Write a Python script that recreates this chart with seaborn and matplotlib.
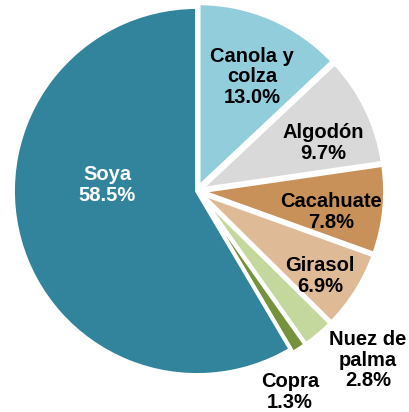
import matplotlib
matplotlib.use("Agg")
import matplotlib.pyplot as plt
import seaborn as sns

# Data
labels = ["Canola y\ncolza", "Algodón", "Cacahuate", "Girasol", "Nuez de\npalma", "Copra", "Soya"]
shares = [13.0, 9.7, 7.8, 6.9, 2.8, 1.3, 58.5]
colors = ["#92CDDC", "#D9D9D9", "#C8915A", "#DFBA96", "#C4D79C", "#76923C", "#31849B"]
text_colors = ["black", "black", "black", "black", "black", "black", "white"]

# label centres in pixels (from top-left of the 409x412 image)
label_px = [(252, 77), (323, 143), (331, 212), (320, 276), (368, 360), (290, 392), (107, 185)]

sns.set_theme(style="white")
plt.rcParams["font.family"] = ["Liberation Sans", "DejaVu Sans"]

W, H = 409, 412
fig = plt.figure(figsize=(W / 100, H / 100), dpi=100)
ax = fig.add_axes([0, 0, 1, 1])

cx, cy, R = 197, 191, 184  # centre and radius in px
wedges, _ = ax.pie(shares, colors=colors, startangle=90, counterclock=False,
                   explode=[0.022] * 6 + [0.0],
                   wedgeprops=dict(edgecolor="white", linewidth=2.8))

ax.set_xlim(-cx / R, (W - cx) / R)
ax.set_ylim(-(H - cy) / R, cy / R)
ax.set_aspect("equal")
ax.axis("off")

for lab, val, tc, (px, py) in zip(labels, shares, text_colors, label_px):
    ax.text(px / W, 1 - py / H, f"{lab}\n{val:.1f}%", transform=ax.transAxes,
            ha="center", va="center", fontsize=14.5, fontweight="bold",
            color=tc, linespacing=1.12)

fig.savefig("out.png", dpi=100)
